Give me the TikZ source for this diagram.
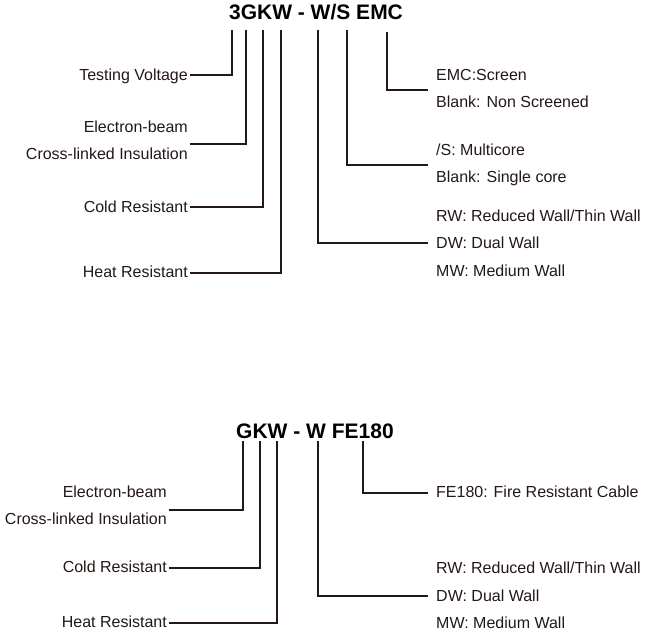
\documentclass[tikz,border=0pt]{standalone}
\usepackage{fontspec}
\setmainfont{Liberation Sans}
\definecolor{ink}{HTML}{231815}
\begin{document}
\begin{tikzpicture}[x=1pt,y=-1pt,
  lbl/.style={inner sep=0pt,font=\fontsize{16}{19}\selectfont,text=ink},
  lft/.style={lbl,anchor=base east},
  rgt/.style={lbl,anchor=base west},
  ttl/.style={inner sep=0pt,anchor=base,font=\fontsize{21}{25}\selectfont\bfseries,text=black},
  wire/.style={draw=ink,line width=2.2pt}]
\useasboundingbox (0,0) rectangle (645,635);
% ---------- top code ----------
\node[ttl] (t) at (316,19.5) {3GKW - W/S EMC};
\coordinate (a1) at (232,30);
\coordinate (a2) at (246,30);
\coordinate (a3) at (263,30);
\coordinate (a4) at (281,30);
\coordinate (a5) at (318,30);
\coordinate (a6) at (347,30);
\coordinate (a7) at (387,32);
\node[lft] (tv) at (188,80.7) {Testing Voltage};
\node[lft] (eb1) at (188,132.7) {Electron-beam};
\node[lft] (cl1) at (188,159.7) {Cross-linked Insulation};
\node[lft] (cr1) at (188,212.7) {Cold Resistant};
\node[lft] (hr1) at (188,277.7) {Heat Resistant};
\coordinate (e1) at (190,144);
\node[rgt] (emc) at (436,80.7) {EMC:Screen};
\node[rgt] (ns) at (436,107.7) {Blank: Non Screened};
\node[rgt] (mc) at (436,155.7) {/S: Multicore};
\node[rgt] (sc) at (436,182.7) {Blank: Single core};
\node[rgt] (rw1) at (436,221.7) {RW: Reduced Wall/Thin Wall};
\node[rgt] (dw1) at (436,248.7) {DW: Dual Wall};
\node[rgt] (mw1) at (436,276.7) {MW: Medium Wall};
\coordinate (r1) at (428,90);
\coordinate (r2) at (428,165);
\coordinate (r3) at (428,243);
\draw[wire] (190,75) coordinate (tvs) -- (tvs -| a1) -- (a1);
\draw[wire] (e1) -- (e1 -| a2) -- (a2);
\draw[wire] (190,207) coordinate (crs) -- (crs -| a3) -- (a3);
\draw[wire] (190,273) coordinate (hrs) -- (hrs -| a4) -- (a4);
\draw[wire] (a7) -- (a7 |- r1) -- (r1);
\draw[wire] (a6) -- (a6 |- r2) -- (r2);
\draw[wire] (a5) -- (a5 |- r3) -- (r3);
% ---------- bottom code ----------
\node[ttl] (b) at (315,438) {GKW - W FE180};
\coordinate (b1) at (243,441);
\coordinate (b2) at (260,441);
\coordinate (b3) at (277,441);
\coordinate (b4) at (318,441);
\coordinate (b5) at (363,441);
\node[lft] (eb2) at (167,497.7) {Electron-beam};
\node[lft] (cl2) at (167,524.7) {Cross-linked Insulation};
\node[lft] (cr2) at (167,572.7) {Cold Resistant};
\node[lft] (hr2) at (167,627.7) {Heat Resistant};
\node[rgt] (fe) at (436,497.7) {FE180: Fire Resistant Cable};
\node[rgt] (rw2) at (436,573.7) {RW: Reduced Wall/Thin Wall};
\node[rgt] (dw2) at (436,601.7) {DW: Dual Wall};
\node[rgt] (mw2) at (436,628.7) {MW: Medium Wall};
\coordinate (q1) at (428,493);
\coordinate (q2) at (428,596);
\draw[wire] (169,510) coordinate (ebs) -- (ebs -| b1) -- (b1);
\draw[wire] (169,568) coordinate (crs2) -- (crs2 -| b2) -- (b2);
\draw[wire] (169,623) coordinate (hrs2) -- (hrs2 -| b3) -- (b3);
\draw[wire] (b5) -- (b5 |- q1) -- (q1);
\draw[wire] (b4) -- (b4 |- q2) -- (q2);
\end{tikzpicture}
\end{document}
